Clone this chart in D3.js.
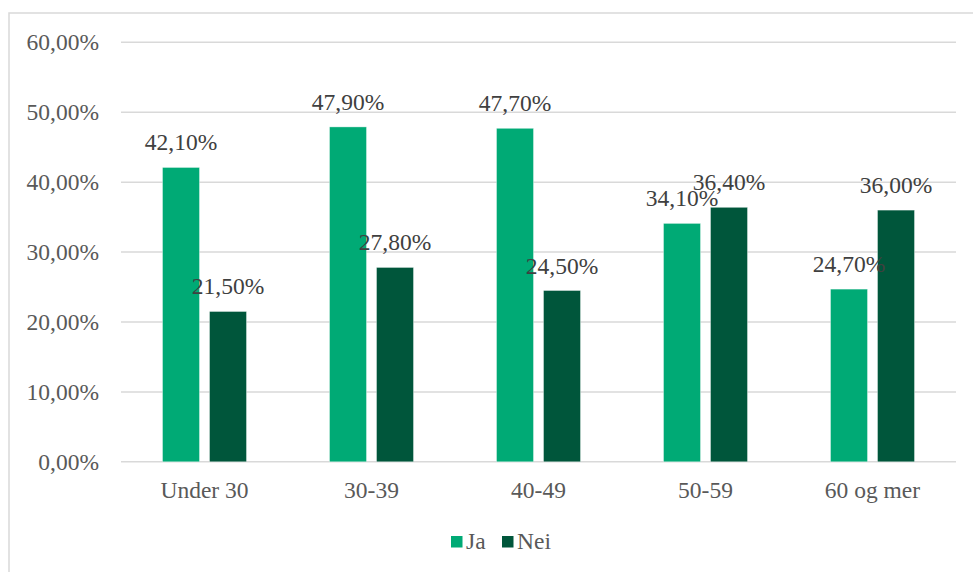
<!DOCTYPE html>
<meta charset="utf-8">
<script src="https://d3js.org/d3.v7.min.js"></script>
<style>
body { margin: 0; background: #fff; }
</style>
<div id="chart"></div>
<script>

// data
var categories = ["Under 30", "30-39", "40-49", "50-59", "60 og mer"];
var series = ["Ja", "Nei"];
var jaValues = [42.1, 47.9, 47.7, 34.1, 24.7];
var neiValues = [21.5, 27.8, 24.5, 36.4, 36.0];
var yTicks = [0, 10, 20, 30, 40, 50, 60];

var colors = { "Ja": "#00AA75", "Nei": "#00563B" };

var W = 973, H = 572;
var plot = { left: 121, right: 956, top: 42.3, bottom: 461.8 };
var FONT = "'Liberation Serif', 'Times New Roman', 'DejaVu Serif', serif";
var FS = 23.5;

var svg = d3.select("#chart").append("svg")
    .attr("width", W)
    .attr("height", H)
    .style("font-family", FONT);

// outer chart border (cut by the window on right and bottom)
svg.append("rect")
    .attr("x", 9).attr("y", 13)
    .attr("width", W + 20).attr("height", H + 20)
    .attr("fill", "none")
    .attr("stroke", "#D9D9D9")
    .attr("stroke-width", 1.5);

var x0 = d3.scaleBand()
    .domain(categories)
    .range([plot.left, plot.right]);

var y = d3.scaleLinear()
    .domain([0, 60])
    .range([plot.bottom, plot.top]);

var barW = 37, innerGap = 10;
var x1 = d3.scaleOrdinal()
    .domain(series)
    .range([-(barW + innerGap / 2), innerGap / 2]);

var fmt = function(v) { return d3.format(".2f")(v).replace(".", ",") + "%"; };

// gridlines
svg.append("g")
  .selectAll("line")
  .data(yTicks)
  .enter().append("line")
    .attr("x1", plot.left).attr("x2", plot.right)
    .attr("y1", function(d) { return y(d); })
    .attr("y2", function(d) { return y(d); })
    .attr("stroke", "#D9D9D9")
    .attr("stroke-width", 1.5);

// y tick labels
svg.append("g")
  .selectAll("text")
  .data(yTicks)
  .enter().append("text")
    .attr("x", 99)
    .attr("y", function(d) { return y(d); })
    .attr("dy", "0.33em")
    .attr("text-anchor", "end")
    .attr("fill", "#595959")
    .attr("font-size", FS)
    .text(function(d) { return fmt(d); });

// x labels
svg.append("g")
  .selectAll("text")
  .data(categories)
  .enter().append("text")
    .attr("x", function(d) { return x0(d) + x0.bandwidth() / 2; })
    .attr("y", 498)
    .attr("text-anchor", "middle")
    .attr("fill", "#595959")
    .attr("font-size", FS)
    .text(function(d) { return d; });

var rows = [];
categories.forEach(function(c, i) {
  rows.push({ cat: c, s: "Ja", v: jaValues[i] });
  rows.push({ cat: c, s: "Nei", v: neiValues[i] });
});

var cx = function(d) { return x0(d.cat) + x0.bandwidth() / 2 + x1(d.s); };

// bars
svg.append("g")
  .selectAll("rect")
  .data(rows)
  .enter().append("rect")
    .attr("x", cx)
    .attr("y", function(d) { return y(d.v); })
    .attr("width", barW)
    .attr("height", function(d) { return y(0) - y(d.v); })
    .attr("fill", function(d) { return colors[d.s]; })
    .attr("stroke", "#ffffff")
    .attr("stroke-opacity", 0.5)
    .attr("stroke-width", 0.75);

// data labels
svg.append("g")
  .selectAll("text")
  .data(rows)
  .enter().append("text")
    .attr("x", function(d) { return cx(d) + barW / 2; })
    .attr("y", function(d) { return y(d.v) - 17; })
    .attr("text-anchor", "middle")
    .attr("fill", "#404040")
    .attr("font-size", FS)
    .text(function(d) { return fmt(d.v); });

// legend
var legend = svg.append("g");
var legendX = { "Ja": 451, "Nei": 502 };
series.forEach(function(s) {
  legend.append("rect")
    .attr("x", legendX[s]).attr("y", 536)
    .attr("width", 11.5).attr("height", 11.5)
    .attr("fill", colors[s]);
  legend.append("text")
    .attr("x", legendX[s] + 15).attr("y", 548.5)
    .attr("fill", "#595959")
    .attr("font-size", FS)
    .text(s);
});

</script>
